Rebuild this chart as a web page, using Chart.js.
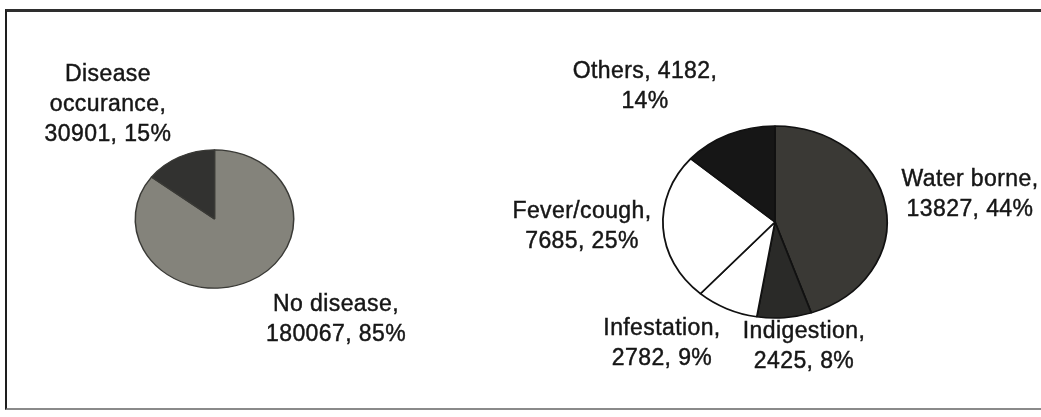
<!DOCTYPE html>
<html>
<head>
<meta charset="utf-8">
<script src="https://cdn.jsdelivr.net/npm/chart.js@4.4.1/dist/chart.umd.min.js"></script>
<style>
  html, body { margin: 0; padding: 0; background: #fff; }
  body { width: 1041px; height: 417px; position: relative; overflow: hidden; }
  canvas { position: absolute; left: 0; top: 0; }
  #frame {
    position: absolute; left: 5px; top: 9px; width: 1060px; height: 401px;
    border-top: 3px solid #2e2e2e; border-left: 2px solid #1e1e1e;
    border-bottom: 2px solid #8a8a8a; box-sizing: border-box;
  }
</style>
</head>
<body>
<div id="frame"></div>
<canvas id="overall" width="1041" height="417"></canvas>
<canvas id="byType" width="1041" height="417"></canvas>
<script>
// Households surveyed: disease occurrence overall
const overallLabels = ['No disease', 'Disease occurance'];
const overallCounts = [180067, 30901];
const overallShares = [85, 15];

// Breakdown of the disease cases by type
const typeLabels = ['Water borne', 'Indigestion', 'Infestation', 'Fever/cough', 'Others'];
const typeCounts = [13827, 2425, 2782, 7685, 4182];
const typeShares = [44, 8, 9, 25, 14];

// How each data label is broken into lines
function labelLines(name, count, share, mode) {
  if (mode === 'words') {
    const words = name.split(' ');
    words[words.length - 1] += ',';
    return words.concat([count + ', ' + share + '%']);
  }
  if (mode === 'shareAlone') {
    return [name + ', ' + count + ',', share + '%'];
  }
  return [name + ',', count + ', ' + share + '%'];
}

// Flattens the pie into a slight ellipse, seen from above at an angle
const tilt = {
  id: 'tilt',
  beforeDatasetsDraw(chart, args, opts) {
    const arc = chart.getDatasetMeta(0).data[0];
    const ctx = chart.ctx;
    ctx.save();
    ctx.translate(arc.x, arc.y);
    ctx.scale(1, opts.ratio);
    ctx.translate(-arc.x, -arc.y);
  },
  afterDatasetsDraw(chart) {
    chart.ctx.restore();
  }
};

// Draws the multi-line data labels beside the slices
const sliceLabels = {
  id: 'sliceLabels',
  afterDraw(chart, args, opts) {
    const ctx = chart.ctx;
    const ds = chart.data.datasets[0];
    ctx.save();
    ctx.font = '23px "Liberation Sans", Arial, sans-serif';
    ctx.letterSpacing = '0.4px';
    ctx.fillStyle = '#161616';
    ctx.strokeStyle = '#161616';
    ctx.lineWidth = 0.45;
    ctx.textAlign = 'center';
    ctx.textBaseline = 'middle';
    chart.data.labels.forEach((name, i) => {
      const place = opts.places[i];
      const lines = labelLines(name, ds.data[i], opts.shares[i], place.mode);
      lines.forEach((line, k) => {
        const y = place.y + k * opts.lineHeight;
        ctx.fillText(line, place.x, y);
        ctx.strokeText(line, place.x, y);
      });
    });
    ctx.restore();
  }
};

function pieChart(id, labels, counts, shares, colors, border, padding, ratio, places) {
  return new Chart(document.getElementById(id), {
    type: 'pie',
    data: {
      labels: labels,
      datasets: [{
        data: counts,
        backgroundColor: colors,
        borderColor: border.color,
        borderWidth: border.width,
        clip: false
      }]
    },
    options: {
      responsive: false,
      animation: false,
      rotation: 0,
      layout: { padding: padding },
      plugins: {
        legend: { display: false },
        tooltip: { enabled: false },
        tilt: { ratio: ratio },
        sliceLabels: { places: places, shares: shares, lineHeight: 30 }
      }
    },
    plugins: [tilt, sliceLabels]
  });
}

pieChart('overall', overallLabels, overallCounts, overallShares,
  ['#84837b', '#323230'],
  { color: '#3a3a36', width: 1.5 },
  { left: 134, right: 746, top: 139, bottom: 118 },
  0.873,
  [
    { x: 336, y: 305, mode: 'plain' },
    { x: 108, y: 75, mode: 'words' }
  ]);

pieChart('byType', typeLabels, typeCounts, typeShares,
  ['#3a3935', '#2a2a28', '#ffffff', '#ffffff', '#161616'],
  { color: '#111111', width: 1.8 },
  { left: 662, right: 153, top: 109, bottom: 82 },
  0.857,
  [
    { x: 970, y: 180, mode: 'plain' },
    { x: 804, y: 332, mode: 'plain' },
    { x: 662, y: 329, mode: 'plain' },
    { x: 582, y: 212, mode: 'plain' },
    { x: 645, y: 72, mode: 'shareAlone' }
  ]);
</script>
</body>
</html>
